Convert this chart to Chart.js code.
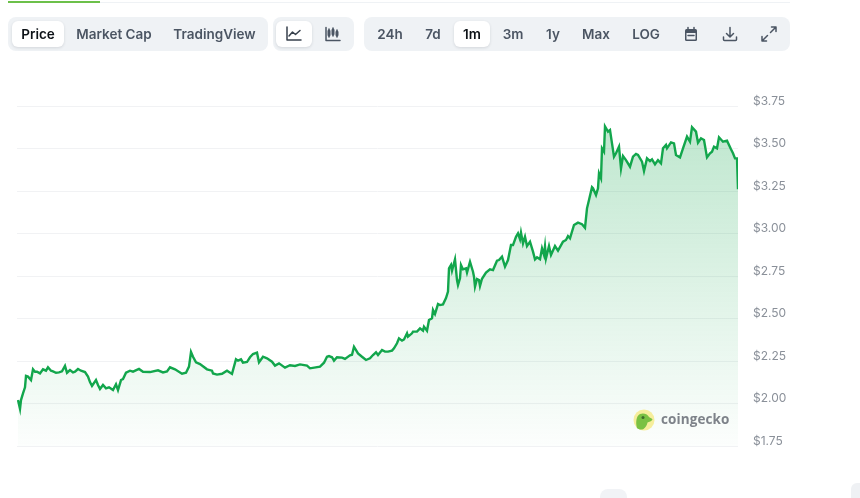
<!DOCTYPE html>
<html><head><meta charset="utf-8">
<script src="https://cdn.jsdelivr.net/npm/chart.js@4/dist/chart.umd.min.js"></script>
<style>
html,body{margin:0;padding:0;background:#fff;width:860px;height:498px;overflow:hidden;font-family:Inter,sans-serif}
#wrap{position:absolute;left:0;top:0;width:860px;height:498px}
canvas{position:absolute;left:0;top:0;filter:blur(0.35px)}
.abs{position:absolute}
.group{position:absolute;top:17px;height:34px;background:#eff2f5;border-radius:8px}
.active{position:absolute;top:21px;height:26px;background:#fff;border-radius:6px;box-shadow:0 1px 3px rgba(16,24,40,.12)}
.t{position:absolute;top:25px;line-height:18px;height:18px;font-size:13.5px;font-weight:600;color:#4b5563;transform:translateX(-50%);white-space:nowrap}
.t.on{color:#0d1217}
svg.i{position:absolute;top:25px;width:18px;height:18px;fill:none;stroke:#4b5563;stroke-width:1.5;stroke-linecap:round;stroke-linejoin:round}
</style></head><body>
<div id="wrap">
<canvas id="c" width="860" height="498"></canvas>
<div class="abs" style="left:100px;top:2px;width:690px;height:1px;background:#eff2f5"></div>
<div class="abs" style="left:8px;top:1px;width:92px;height:2px;background:#6cc04a"></div>
<div class="group" style="left:8px;width:260px"></div>
<div class="group" style="left:273px;width:81px"></div>
<div class="group" style="left:364px;width:426px"></div>
<div class="active" style="left:12px;width:52px"></div>
<div class="active" style="left:276px;width:36px"></div>
<div class="active" style="left:454px;width:36px"></div>
<div class="t on" style="left:38px">Price</div>
<div class="t" style="left:114px">Market Cap</div>
<div class="t" style="left:214.5px">TradingView</div>
<div class="t" style="left:390px">24h</div>
<div class="t" style="left:433px">7d</div>
<div class="t on" style="left:472px">1m</div>
<div class="t" style="left:513px">3m</div>
<div class="t" style="left:553px">1y</div>
<div class="t" style="left:596px">Max</div>
<div class="t" style="left:646px">LOG</div>
<svg class="i" style="left:285px;stroke:#37404c" viewBox="0 0 18 18"><path d="M2 2v13h14M4 11l3.500-4 3 2.500L15 5.500"/></svg>
<svg class="i" style="left:324px" viewBox="0 0 18 18"><path d="M2 2.500v13h14M5 4v8M9 3v8M13 5v7" /><path d="M5 6v4M9 5v4M13 7v3" stroke-width="3"/></svg>
<svg class="i" style="left:682px" viewBox="0 0 18 18"><rect x="3" y="4" width="12" height="12" rx="1.500" fill="#4b5563" stroke="none"/><rect x="4.500" y="8" width="9" height="6.500" fill="#eff2f5" stroke="none"/><path d="M6 2.500v3M12 2.500v3M6 10.500h6"/></svg>
<svg class="i" style="left:721px" viewBox="0 0 18 18"><path d="M9 2.500v9M5.500 8.500L9 12l3.500-3.500M2.500 12v2.500a1 1 0 0 0 1 1h11a1 1 0 0 0 1-1V12"/></svg>
<svg class="i" style="left:760px" viewBox="0 0 18 18"><path d="M10.500 7.500L16 2M11.500 2H16v4.500M7.500 10.500L2 16M2 11.500V16h4.500"/></svg>
<svg class="abs" style="left:632px;top:408px" width="24" height="24" viewBox="0 0 24 24"><circle cx="12" cy="12" r="10.500" fill="#f6ee9c"/><path d="M5 20c-1.500-5-1-12 3-14 4-1.500 8 .5 9 3 1.500 1 3 1.500 3.500 2.500-1 2-3.500 2-5 3-.5 3-2 5-4 6.500-2.500 1-5 .5-6.500-1z" fill="#7ac143"/><circle cx="11" cy="9.500" r="1.500" fill="#3e6b2a"/></svg>
<div class="abs" style="left:661px;top:411px;line-height:17px;font-family:'Open Sans',sans-serif;font-size:13.500px;font-weight:700;color:#7d8289;letter-spacing:.1px">coingecko</div>
<div class="abs" style="left:600px;top:489px;width:27px;height:9px;background:#f1f3f6;border-radius:8px 8px 0 0"></div>
<div class="abs" style="left:851px;top:483px;width:9px;height:15px;background:#eff1f4;border-radius:6px 0 0 0"></div>
</div>
<script>
// Hours since the start of the 30-day window
const hours = [0,2,3,5,7,8,10,13,15,17,19,22,25,28,30,33,35,38,41,44,47,49,52,55,57,60,63,67,70,72,74,78,80,82,85,88,91,95,98,100,103,105,108,112,115,121,125,132,140,145,149,152,157,164,168,171,173,175,178,182,189,194,195,199,204,209,214,218,220,223,225,229,232,235,239,241,245,249,254,257,261,267,272,277,282,289,292,302,306,309,311,314,316,319,324,327,332,334,336,340,344,348,352,355,358,360,364,367,370,374,376,379,381,384,386,389,390,394,395,399,402,405,406,409,411,414,415,417,420,422,425,428,430,431,433,434,437,439,440,442,443,445,448,449,452,455,456,457,459,461,462,464,468,472,475,479,481,484,487,490,493,495,498,500,502,503,505,507,509,512,515,517,519,522,524,526,527,528,531,533,537,540,545,548,550,552,556,560,564,567,569,571,574,575,578,580,581,583,584,586,587,590,592,594,596,598,601,603,605,608,612,615,618,620,624,626,629,632,634,637,640,643,645,648,649,653,656,658,662,665,669,672,674,678,680,683,686,689,692,694,696,699,701,705,709,713,715,717,719,720];
// Price in USD at each of those hours
const prices = [2.02,1.968,2.02,2.06,2.095,2.162,2.158,2.138,2.201,2.187,2.187,2.177,2.201,2.193,2.213,2.193,2.189,2.181,2.183,2.189,2.221,2.181,2.197,2.183,2.187,2.203,2.193,2.185,2.158,2.126,2.103,2.138,2.109,2.085,2.109,2.089,2.095,2.079,2.113,2.079,2.138,2.144,2.181,2.193,2.187,2.203,2.187,2.185,2.195,2.183,2.189,2.213,2.201,2.175,2.181,2.217,2.303,2.275,2.242,2.232,2.201,2.193,2.177,2.17,2.175,2.193,2.174,2.26,2.252,2.26,2.24,2.244,2.272,2.291,2.299,2.242,2.275,2.266,2.246,2.223,2.236,2.211,2.225,2.221,2.23,2.223,2.207,2.217,2.24,2.275,2.279,2.272,2.252,2.272,2.27,2.262,2.283,2.287,2.334,2.295,2.275,2.256,2.266,2.285,2.301,2.285,2.315,2.305,2.305,2.311,2.325,2.354,2.383,2.37,2.377,2.413,2.393,2.413,2.423,2.423,2.442,2.428,2.452,2.428,2.491,2.501,2.55,2.526,2.585,2.579,2.583,2.62,2.658,2.795,2.815,2.781,2.848,2.726,2.697,2.736,2.815,2.789,2.795,2.77,2.834,2.775,2.746,2.687,2.732,2.726,2.691,2.734,2.77,2.789,2.785,2.84,2.844,2.864,2.805,2.844,2.932,2.932,2.981,3.001,2.966,3.005,2.942,2.981,2.926,2.952,2.893,2.848,2.86,2.848,2.913,2.874,2.923,2.854,2.926,2.874,2.926,2.899,2.952,2.962,2.985,2.972,3.05,3.064,3.055,3.034,3.148,3.197,3.272,3.266,3.226,3.266,3.354,3.325,3.501,3.481,3.63,3.599,3.609,3.53,3.452,3.472,3.511,3.383,3.456,3.432,3.393,3.452,3.468,3.462,3.423,3.368,3.442,3.426,3.436,3.407,3.432,3.413,3.501,3.521,3.501,3.536,3.53,3.462,3.448,3.501,3.57,3.54,3.625,3.599,3.534,3.56,3.55,3.448,3.472,3.481,3.511,3.501,3.566,3.54,3.546,3.495,3.472,3.442,3.442,3.26,3.295];
const yTicks = [1.75,2,2.25,2.5,2.75,3,3.25,3.5,3.75];
const tickLabels = ['$1.75','$2.00','$2.25','$2.50','$2.75','$3.00','$3.25','$3.50','$3.75'];

new Chart(document.getElementById('c'), {
  type: 'line',
  data: { datasets: [{
    data: hours.map((h, i) => ({ x: h, y: prices[i] })),
    borderColor: '#12a64c',
    borderWidth: 2.4,
    pointRadius: 0,
    tension: 0,
    fill: 'start',
    backgroundColor(ctx) {
      const a = ctx.chart.chartArea;
      if (!a) return 'transparent';
      const g = ctx.chart.ctx.createLinearGradient(0, a.top + 18, 0, a.bottom);
      g.addColorStop(0, 'rgba(18,166,76,0.27)');
      g.addColorStop(1, 'rgba(18,166,76,0.01)');
      return g;
    }
  }]},
  options: {
    responsive: false,
    animation: false,
    events: [],
    layout: { padding: { left: 17, top: 106, bottom: 52, right: 0 } },
    plugins: { legend: { display: false }, tooltip: { enabled: false } },
    scales: {
      x: { type: 'linear', min: -1, max: 720, display: false },
      y: {
        position: 'right', min: 1.75, max: 3.75,
        afterBuildTicks(s) { s.ticks = yTicks.map(v => ({ value: v })); },
        afterFit(s) { s.width = 122; },
        border: { display: false },
        grid: { color: '#f1f2f4', lineWidth: 1, drawTicks: false },
        ticks: {
          padding: 15, color: '#8a9099',
          font: { family: 'Inter', size: 12, lineHeight: '10px' },
          // the empty second line lifts each label above its gridline
          callback(v) { return [tickLabels[yTicks.indexOf(v)], '']; }
        }
      }
    }
  }
});
</script>
</body></html>
